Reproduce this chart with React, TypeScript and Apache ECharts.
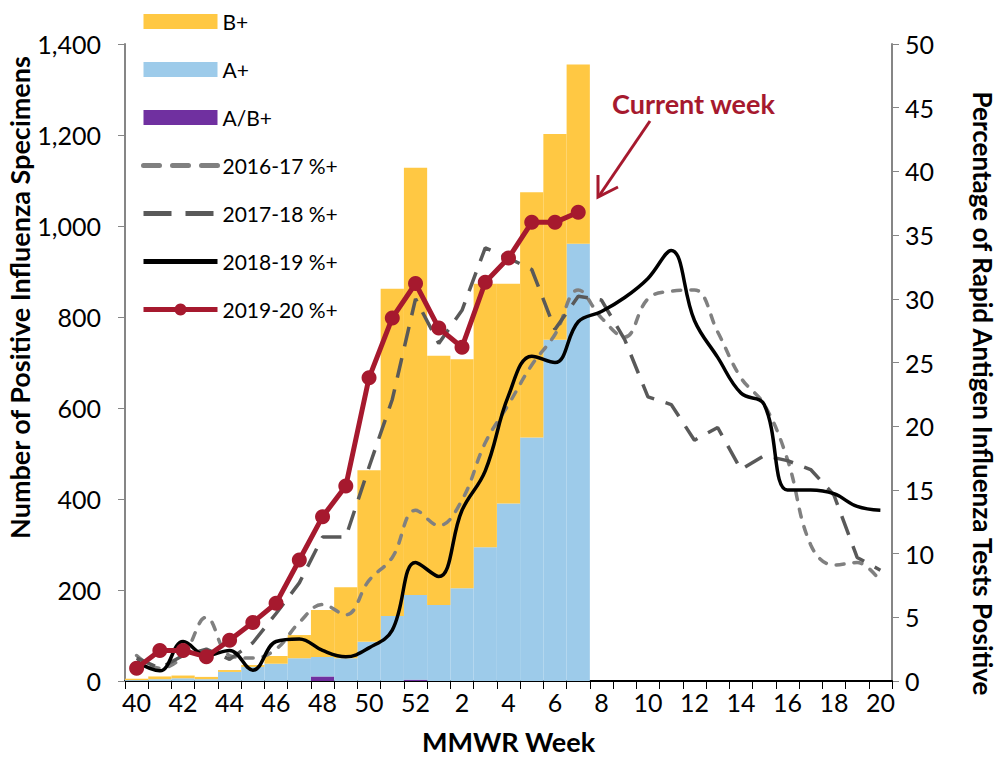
import React, { useEffect, useRef } from "react";
import * as echarts from "echarts";

const weeks = [
  "40", "41", "42", "43", "44", "45", "46", "47", "48", "49", "50", "51", "52",
  "1", "2", "3", "4", "5", "6", "7", "8", "9", "10", "11", "12", "13", "14", "15",
  "16", "17", "18", "19", "20",
];

// Positive specimens (left axis), weeks 40..7
const abPos = [0, 0, 0, 0, 0, 0, 0, 0, 10, 0, 0, 0, 3, 0, 0, 0, 0, 0, 0, 0];
const aPos = [2, 4, 6, 4, 20, 31, 38, 50, 43, 50, 86, 143, 186, 167, 204, 294, 390, 535, 750, 961];
const bPos = [3, 6, 6, 5, 4, 4, 17, 51, 103, 156, 377, 719, 939, 548, 503, 579, 483, 539, 452, 394];

// Percent positive (right axis)
const pct1617 = [
  2.0, 1.0, 2.0, 5.0, 2.0, 1.8, 2.5, 4.6, 6.0, 5.2, 7.9, 9.7, 13.4, 12.2, 14.2, 18.7, 21.7,
  24.8, 27.2, 30.7, 28.5, 27.0, 30.0, 30.6, 30.7, 27.4, 23.8, 21.7, 17.4, 10.7, 9.1, 9.3, 7.8,
];
const pct1718 = [
  1.8, 1.0, 2.0, 2.5, 1.7, 3.0, 5.3, 7.7, 11.3, 11.3, 16.8, 22.1, 30.0, 26.5, 29.1, 34.0, 33.2,
  32.3, 27.6, 30.2, 29.9, 26.8, 22.3, 21.7, 18.9, 19.9, 16.6, 17.7, 17.3, 16.6, 14.6, 9.7, 8.7,
];
const pct1819 = [
  1.5, 0.8, 3.1, 2.0, 2.4, 0.85, 3.1, 3.3, 2.4, 1.9, 2.6, 4.0, 9.3, 8.2, 13.4, 16.5, 22.4,
  25.5, 25.0, 28.2, 29.0, 30.1, 31.6, 33.8, 28.3, 25.4, 22.6, 21.7, 15.0, 15.0, 14.7, 13.7, 13.4,
];
const pct1920 = [
  1.0, 2.4, 2.4, 1.9, 3.2, 4.6, 6.1, 9.5, 12.9, 15.3, 23.8, 28.5, 31.2, 27.7, 26.2, 31.3, 33.2,
  36.0, 36.0, 36.8,
];

const leftTicks = { min: 0, max: 1400, interval: 200 };
const rightTicks = { min: 0, max: 50, interval: 5 };

const FONT = "Lato, 'Open Sans', sans-serif";

const DASH_1617 = [8, 10];
const DASH_1718 = [20, 12];

export default function App() {
  const ref = useRef<HTMLDivElement>(null);

  useEffect(() => {
    if (!ref.current) return;
    const chart = echarts.init(ref.current, null, { renderer: "svg" });
    const axisLabel = { fontSize: 25, color: "#000", fontFamily: FONT };
    const titleStyle = { fontSize: 27, fontWeight: "bold", color: "#000", fontFamily: FONT };
    const hideSym = { opacity: 0 };
    chart.setOption({
      animation: false,
      textStyle: { fontFamily: FONT },
      grid: { left: 125, right: 111, top: 44, bottom: 84, outerBoundsMode: "none", containLabel: false },
      legend: {
        orient: "vertical",
        left: 136,
        top: 6,
        itemWidth: 74,
        itemHeight: 15,
        itemGap: 27,
        textStyle: { fontSize: 21, color: "#000", fontFamily: FONT },
        data: [
          { name: "B+", icon: "rect" },
          { name: "A+", icon: "rect" },
          { name: "A/B+", icon: "rect" },
          { name: "2016-17 %+", itemStyle: hideSym, lineStyle: { width: 5, type: [16, 13], cap: "round" } },
          { name: "2017-18 %+", itemStyle: hideSym, lineStyle: { width: 5, type: [28, 14] } },
          { name: "2018-19 %+", itemStyle: hideSym, lineStyle: { width: 5 } },
          { name: "2019-20 %+", lineStyle: { width: 5 } },
        ],
      },
      xAxis: {
        type: "category",
        data: weeks,
        boundaryGap: true,
        axisLine: { lineStyle: { color: "#000", width: 2 } },
        axisTick: { show: true, interval: 0, length: 8, lineStyle: { color: "#000", width: 1 } },
        axisLabel: { ...axisLabel, interval: 1, margin: 8 },
        name: "MMWR Week",
        nameLocation: "middle",
        nameGap: 47,
        nameMoveOverlap: false,
        nameTextStyle: titleStyle,
      },
      yAxis: [
        {
          type: "value",
          ...leftTicks,
          position: "left",
          axisLine: { show: true, lineStyle: { color: "#868686", width: 2 } },
          axisTick: { show: true, length: 7, lineStyle: { color: "#868686" } },
          splitLine: { show: false },
          axisLabel: {
            ...axisLabel,
            margin: 24,
            formatter: (v: number) => v.toLocaleString("en-US"),
          },
          name: "Number of Positive Influenza Specimens",
          nameLocation: "middle",
          nameGap: 92,
          nameMoveOverlap: false,
          nameTextStyle: { ...titleStyle, padding: [0, 0, 0, 130] },
        },
        {
          type: "value",
          ...rightTicks,
          position: "right",
          axisLine: { show: true, lineStyle: { color: "#868686", width: 2 } },
          axisTick: { show: true, length: 7, lineStyle: { color: "#868686" } },
          splitLine: { show: false },
          axisLabel: { ...axisLabel, margin: 13 },
          name: "Percentage of Rapid Antigen Influenza Tests Positive",
          nameLocation: "middle",
          nameGap: 78,
          nameMoveOverlap: false,
          nameRotate: -90,
          nameTextStyle: { ...titleStyle, fontSize: 26, padding: [0, 0, 0, 62] },
        },
      ],
      series: [
        {
          name: "A/B+",
          type: "bar",
          stack: "pos",
          yAxisIndex: 0,
          barCategoryGap: "0%",
          itemStyle: { color: "#7030a0" },
          data: abPos,
        },
        {
          name: "A+",
          type: "bar",
          stack: "pos",
          yAxisIndex: 0,
          barCategoryGap: "0%",
          itemStyle: { color: "#9dcbea" },
          data: aPos,
        },
        {
          name: "B+",
          type: "bar",
          stack: "pos",
          yAxisIndex: 0,
          barCategoryGap: "0%",
          itemStyle: { color: "#ffc843" },
          data: bPos,
        },
        {
          name: "2016-17 %+",
          type: "line",
          yAxisIndex: 1,
          smooth: 0.4,
          symbol: "none",
          itemStyle: { color: "#808080" },
          lineStyle: { color: "#808080", width: 3.5, type: DASH_1617, cap: "round" },
          data: pct1617,
          z: 3,
        },
        {
          name: "2017-18 %+",
          type: "line",
          yAxisIndex: 1,
          symbol: "none",
          itemStyle: { color: "#595959" },
          lineStyle: { color: "#595959", width: 3.5, type: DASH_1718 },
          data: pct1718,
          z: 3,
        },
        {
          name: "2018-19 %+",
          type: "line",
          yAxisIndex: 1,
          smooth: 0.4,
          symbol: "none",
          itemStyle: { color: "#000" },
          lineStyle: { color: "#000", width: 3.5 },
          data: pct1819,
          z: 4,
        },
        {
          name: "2019-20 %+",
          type: "line",
          yAxisIndex: 1,
          symbol: "circle",
          symbolSize: 15,
          itemStyle: { color: "#a6192e" },
          lineStyle: { color: "#a6192e", width: 5 },
          data: pct1920,
          z: 5,
        },
      ],
      graphic: [
        {
          type: "text",
          left: 612,
          top: 90,
          style: {
            text: "Current week",
            fill: "#a6192e",
            font: `bold 27px ${FONT}`,
          },
        },
        {
          type: "line",
          shape: { x1: 650, y1: 121, x2: 599, y2: 196 },
          style: { stroke: "#a6192e", lineWidth: 3 },
        },
        {
          type: "polyline",
          shape: { points: [[598, 175], [598, 197], [618, 187]] },
          style: { stroke: "#a6192e", lineWidth: 3, fill: "none" },
        },
      ],
    });
    return () => chart.dispose();
  }, []);

  return (
    <div
      ref={ref}
      style={{ position: "fixed", left: 0, top: 0, width: 1003, height: 765, background: "#fff" }}
    />
  );
}
